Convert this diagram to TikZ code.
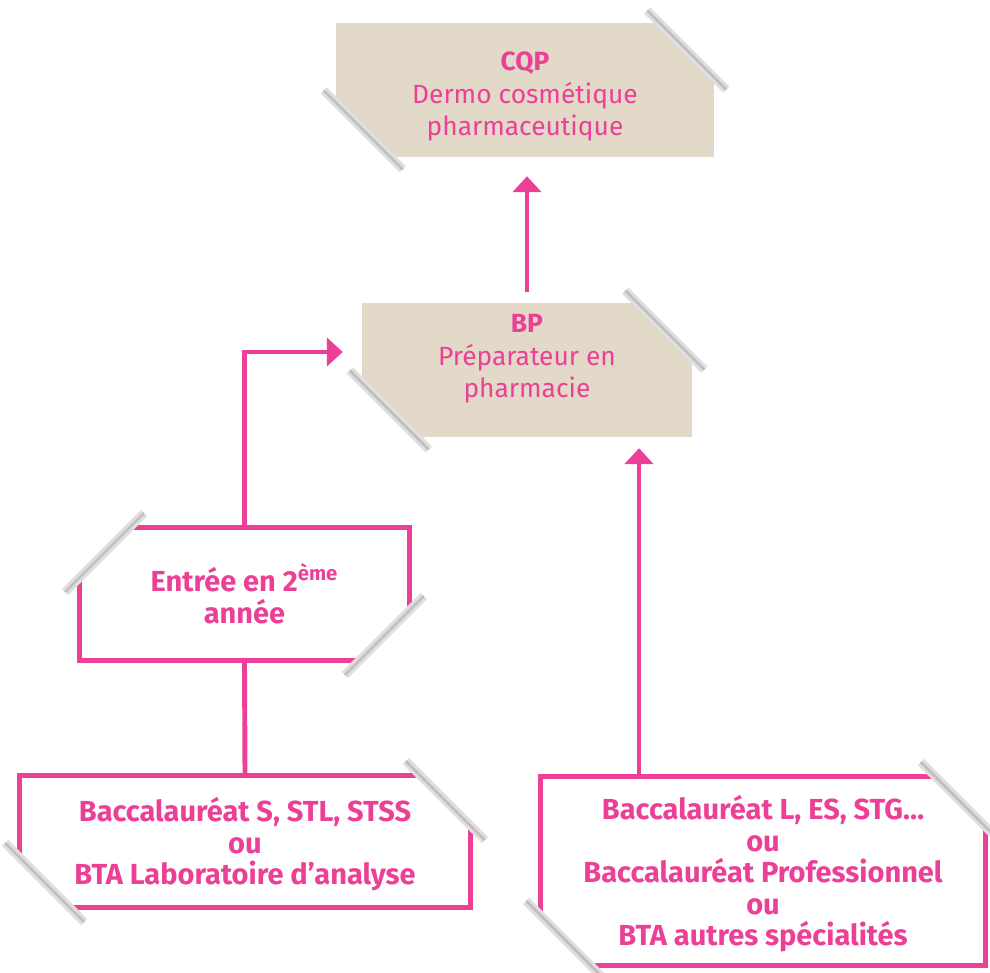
\documentclass[tikz,border=0pt]{standalone}
\usepackage{fontspec}
\setmainfont{Fira Sans}
\usepackage{xcolor}
\usepackage{tikz}
\usetikzlibrary{arrows.meta,calc}
\definecolor{rose}{RGB}{236,64,150}
\definecolor{beige}{RGB}{227,217,200}

\begin{document}
\begin{tikzpicture}[x=0.02cm, y=-0.02cm, >={Triangle[width=16pt,length=9pt]},
    every node/.style={text=rose, align=center, inner sep=0pt, font=\fontsize{15}{18.4}\selectfont},
    diplome/.style={rectangle, fill=beige},
    acces/.style={rectangle, draw=rose, line width=2.8pt, fill=white, font=\bfseries\fontsize{16.5}{18}\selectfont},
    lien/.style={draw=rose, line width=2.8pt},
    tape/.style={white, line width=3pt, line join=round},
    tapeshade/.style={gray!25, line width=5pt},
    tapeline/.style={gray!50, line width=1.5pt}]
\useasboundingbox (0,0) rectangle (990,973);

% diplomes
\node [diplome, minimum width=7.56cm, minimum height=2.68cm] (cqp) at (525,90)
    {\rule{0pt}{18pt}\textbf{CQP}\\Dermo cosmétique\\pharmaceutique};
\node [diplome, minimum width=6.6cm, minimum height=2.68cm] (bp) at (527,370)
    {\textbf{BP}\\Préparateur en\\pharmacie\rule[-16pt]{0pt}{16pt}};

% acces
\node [acces, minimum width=6.6cm, minimum height=2.66cm] (entree) at (244.5,594)
    {Entrée en 2\textsuperscript{ème}\\année};
\node [acces, minimum width=9.02cm, minimum height=2.64cm] (bacs) at (245,841.5)
    {\rule{0pt}{17pt}Baccalauréat S, STL, STSS\\ou\\BTA Laboratoire d’analyse};
\node [acces, minimum width=8.9cm, minimum height=3.78cm] (bacl) at (763,871)
    {\rule{0pt}{17pt}Baccalauréat L, ES, STG…\\ou\\Baccalauréat Professionnel\\ou\\BTA autres spécialités};

% liens
\draw [lien, ->, shorten <=6pt, shorten >=10.8pt] (bp.north) -- (bp.north |- cqp.south);
\draw [lien] (bacs.north) -- (entree.south);
\draw [lien, ->, shorten >=10.8pt] (entree.north) |- ($(bp.west)+(0,-18)$);
\coordinate (pied) at ($(bacl.north)+(-124,0)$);
\draw [lien, ->, shorten >=6.2pt] (pied) -- (pied |- bp.south);

% coins scotches
\foreach \n in {cqp,bp,bacs,bacl} {
    \filldraw [tape] ($(\n.north east)+(-55,0)$) -- (\n.north east) -- ($(\n.north east)+(0,55)$) -- cycle;
    \filldraw [tape] ($(\n.south west)+(0,-55)$) -- (\n.south west) -- ($(\n.south west)+(55,0)$) -- cycle;
    \draw [tapeshade] ($(\n.north east)+(-67,-12)$) -- ($(\n.north east)+(12,67)$);
    \draw [tapeline] ($(\n.north east)+(-67,-12)$) -- ($(\n.north east)+(12,67)$);
    \draw [tapeshade] ($(\n.south west)+(-12,-67)$) -- ($(\n.south west)+(67,12)$);
    \draw [tapeline] ($(\n.south west)+(-12,-67)$) -- ($(\n.south west)+(67,12)$);
}
\filldraw [tape] ($(entree.north west)+(0,55)$) -- (entree.north west) -- ($(entree.north west)+(55,0)$) -- cycle;
\filldraw [tape] ($(entree.south east)+(-55,0)$) -- (entree.south east) -- ($(entree.south east)+(0,-55)$) -- cycle;
\draw [tapeshade] ($(entree.north west)+(-12,67)$) -- ($(entree.north west)+(67,-12)$);
\draw [tapeline] ($(entree.north west)+(-12,67)$) -- ($(entree.north west)+(67,-12)$);
\draw [tapeshade] ($(entree.south east)+(-67,12)$) -- ($(entree.south east)+(12,-67)$);
\draw [tapeline] ($(entree.south east)+(-67,12)$) -- ($(entree.south east)+(12,-67)$);
\end{tikzpicture}
\end{document}
